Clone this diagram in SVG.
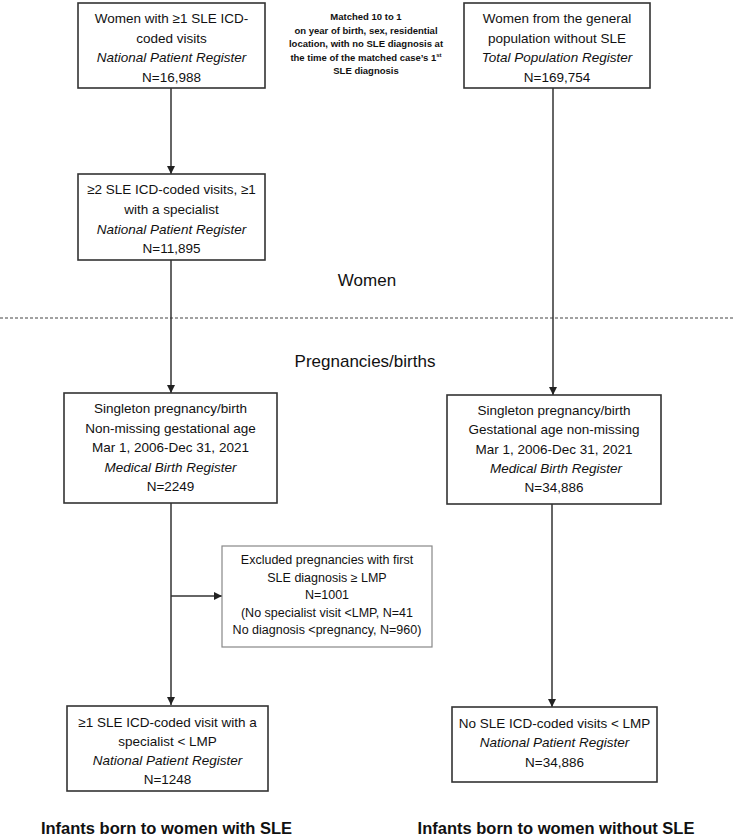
<svg xmlns="http://www.w3.org/2000/svg" width="735" height="838" viewBox="0 0 735 838">
<defs>
<marker id="ah" viewBox="0 0 10 10" refX="10" refY="5" markerWidth="8" markerHeight="8" markerUnits="userSpaceOnUse" orient="auto">
<path d="M0,0 L10,5 L0,10 z" fill="#222"/>
</marker>
</defs>
<style>
.box{fill:#fff;stroke:#333;stroke-width:1.6}
.xbox{fill:#fff;stroke:#888;stroke-width:1.2}
text{font-family:"Liberation Sans",Arial,sans-serif;fill:#111;text-anchor:middle}
.t{font-size:13.5px}
.it{font-style:italic}
.x{font-size:12.5px}
.m{font-size:9.5px;font-weight:bold}
.h{font-size:17px}
.b{font-size:16.5px;font-weight:bold}
.c{stroke:#333;stroke-width:1.5;fill:none;marker-end:url(#ah)}
</style>
<rect width="735" height="838" fill="#fff"/>
<line x1="0" y1="318" x2="735" y2="318" stroke="#444" stroke-width="1" stroke-dasharray="3,2"/>
<text class="h" x="367" y="286">Women</text>
<text class="h" x="365" y="367">Pregnancies/births</text>
<g id="matched">
<text class="m" x="366" y="20">Matched 10 to 1</text>
<text class="m" x="366" y="33.5">on year of birth, sex, residential</text>
<text class="m" x="366" y="47">location, with no SLE diagnosis at</text>
<text class="m" x="366" y="60.5">the time of the matched case’s 1<tspan font-size="6" dy="-4">st</tspan></text>
<text class="m" x="366" y="74">SLE diagnosis</text>
</g>
<g id="connectors">
<line class="c" x1="171" y1="88" x2="171" y2="174"/>
<line class="c" x1="171" y1="260" x2="171" y2="393"/>
<line class="c" x1="171" y1="503" x2="171" y2="705"/>
<line class="c" x1="171" y1="596" x2="222" y2="596"/>
<line class="c" x1="553" y1="88" x2="553" y2="395"/>
<line class="c" x1="552" y1="504" x2="552" y2="707"/>
</g>
<g id="sle1">
<rect class="box" x="78" y="3" width="187" height="85"/>
<text class="t" x="171.5" y="23">Women with ≥1 SLE ICD-</text>
<text class="t" x="171.5" y="43">coded visits</text>
<text class="t it" x="171.5" y="62">National Patient Register</text>
<text class="t" x="171.5" y="82">N=16,988</text>
</g>
<g id="sle2">
<rect class="box" x="78" y="174" width="187" height="86"/>
<text class="t" x="171.5" y="194">≥2 SLE ICD-coded visits, ≥1</text>
<text class="t" x="171.5" y="214">with a specialist</text>
<text class="t it" x="171.5" y="234">National Patient Register</text>
<text class="t" x="171.5" y="253">N=11,895</text>
</g>
<g id="sle3">
<rect class="box" x="64" y="393" width="213" height="110"/>
<text class="t" x="170.5" y="413">Singleton pregnancy/birth</text>
<text class="t" x="170.5" y="433">Non-missing gestational age</text>
<text class="t" x="170.5" y="452">Mar 1, 2006-Dec 31, 2021</text>
<text class="t it" x="170.5" y="472">Medical Birth Register</text>
<text class="t" x="170.5" y="491">N=2249</text>
</g>
<g id="excluded">
<rect class="xbox" x="222" y="546" width="210" height="101"/>
<text class="x" x="327" y="564">Excluded pregnancies with first</text>
<text class="x" x="327" y="582">SLE diagnosis ≥ LMP</text>
<text class="x" x="327" y="599">N=1001</text>
<text class="x" x="327" y="617">(No specialist visit &lt;LMP, N=41</text>
<text class="x" x="327" y="634">No diagnosis &lt;pregnancy, N=960)</text>
</g>
<g id="sle4">
<rect class="box" x="67" y="706" width="201" height="85"/>
<text class="t" x="167.5" y="727">≥1 SLE ICD-coded visit with a</text>
<text class="t" x="167.5" y="746">specialist &lt; LMP</text>
<text class="t it" x="167.5" y="765">National Patient Register</text>
<text class="t" x="167.5" y="784">N=1248</text>
</g>
<g id="gen1">
<rect class="box" x="464" y="3" width="186" height="85"/>
<text class="t" x="557" y="23">Women from the general</text>
<text class="t" x="557" y="43">population without SLE</text>
<text class="t it" x="557" y="62">Total Population Register</text>
<text class="t" x="557" y="82">N=169,754</text>
</g>
<g id="gen2">
<rect class="box" x="447" y="395" width="214" height="109"/>
<text class="t" x="554" y="415">Singleton pregnancy/birth</text>
<text class="t" x="554" y="434">Gestational age non-missing</text>
<text class="t" x="554" y="454">Mar 1, 2006-Dec 31, 2021</text>
<text class="t it" x="556" y="473">Medical Birth Register</text>
<text class="t" x="554" y="492">N=34,886</text>
</g>
<g id="gen3">
<rect class="box" x="452" y="707" width="205" height="75"/>
<text class="t" x="554.5" y="728">No SLE ICD-coded visits &lt; LMP</text>
<text class="t it" x="554.5" y="747">National Patient Register</text>
<text class="t" x="554.5" y="767">N=34,886</text>
</g>
<text class="b" x="166.5" y="834">Infants born to women with SLE</text>
<text class="b" x="556" y="834">Infants born to women without SLE</text>
</svg>
